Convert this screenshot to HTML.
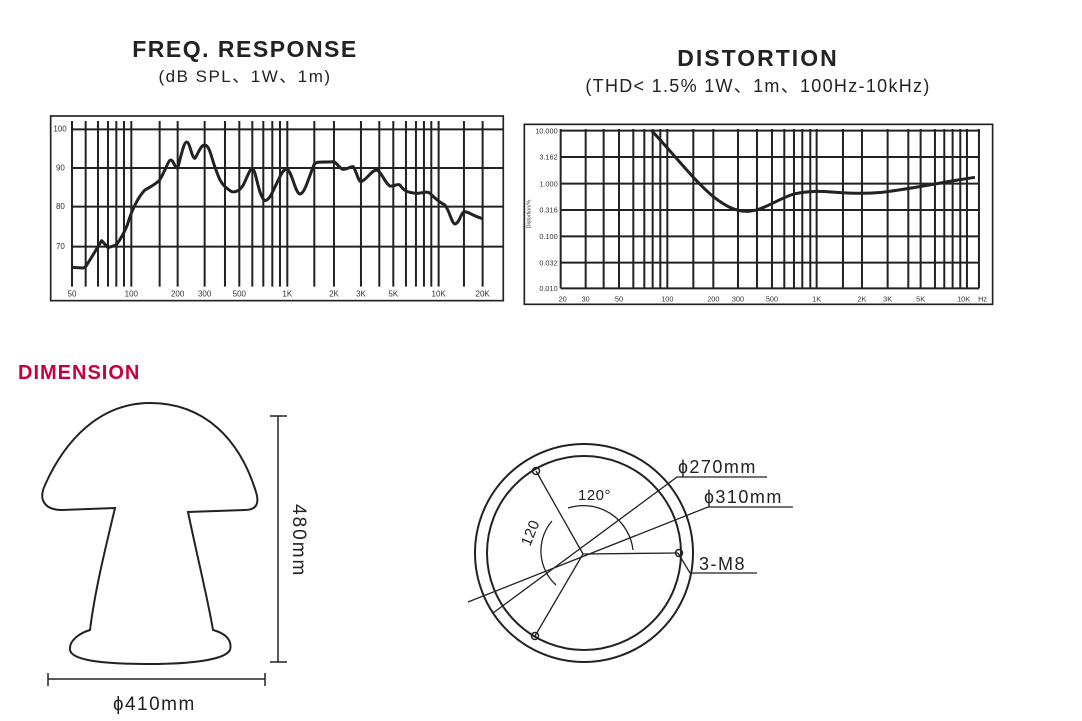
<!DOCTYPE html>
<html><head><meta charset="utf-8"><style>
html,body{margin:0;padding:0;background:#fff;}
svg{display:block;}
</style></head><body>
<svg width="1082" height="721" viewBox="0 0 1082 721" xmlns="http://www.w3.org/2000/svg" font-family="Liberation Sans, sans-serif">
<rect width="1082" height="721" fill="#fff"/>
<text x="245" y="57" font-size="23" font-weight="bold" text-anchor="middle" fill="#222" letter-spacing="1.5">FREQ. RESPONSE</text>
<text x="245" y="82" font-size="17" text-anchor="middle" fill="#222" letter-spacing="1.5" font-family="Liberation Sans, Noto Sans CJK SC, sans-serif">(dB SPL、1W、1m)</text>
<text x="758" y="66" font-size="23" font-weight="bold" text-anchor="middle" fill="#222" letter-spacing="2">DISTORTION</text>
<text x="758" y="92" font-size="18" text-anchor="middle" fill="#222" letter-spacing="1.3" font-family="Liberation Sans, Noto Sans CJK SC, sans-serif">(THD&lt; 1.5%  1W、1m、100Hz-10kHz)</text>
<text x="18" y="379" font-size="20" font-weight="bold" fill="#c8003c" letter-spacing="1">DIMENSION</text>

<!-- FR chart -->
<g transform="translate(40,110) scale(0.3333)" stroke="#222" fill="none">
<rect x="32" y="18" width="1358" height="554" stroke-width="5"/>
<g stroke-width="6">
<line x1="96" y1="58" x2="1390" y2="58"/><line x1="96" y1="174" x2="1390" y2="174"/>
<line x1="96" y1="290" x2="1390" y2="290"/><line x1="96" y1="410" x2="1390" y2="410"/>
</g>
<g stroke-width="6">
<path d="M96 33V530M137 33V530M174 33V530M204 33V530M229 33V530M252 33V530M274 33V530M359 33V530M413 33V530M494 33V530M555 33V530M598 33V530M637 33V530M670 33V530M697 33V530M720 33V530M742 33V530M823 33V530M882 33V530M963 33V530M1018 33V530M1060 33V530M1098 33V530M1128 33V530M1152 33V530M1174 33V530M1196 33V530M1272 33V530M1328 33V530"/>
</g>
<path stroke-width="9" stroke-linejoin="round" d="M96,472 L130,474 L137,470 C150,450 165,425 185,392 L204,413 L229,405 C240,390 252,370 262,345 C275,300 295,260 315,240 C330,230 345,225 359,210 C375,185 385,150 392,150 C400,150 405,175 413,175 C425,130 432,96 440,96 C450,96 455,145 465,145 C475,130 482,105 494,105 C510,105 515,150 530,185 C540,215 550,230 575,245 C590,248 600,240 610,225 C620,205 630,176 637,176 C648,176 655,260 675,272 C690,270 700,240 715,210 C725,190 730,178 740,178 C755,178 765,250 780,252 C795,250 805,205 823,162 C835,152 860,158 882,155 C890,158 900,178 910,178 C925,178 930,168 940,170 C950,185 955,215 963,215 C980,210 995,180 1010,180 C1025,185 1035,220 1050,228 C1065,230 1070,220 1080,225 C1090,240 1100,248 1130,250 C1150,250 1160,242 1170,250 C1185,265 1200,278 1215,285 C1230,305 1235,340 1245,342 C1260,340 1262,305 1275,305 C1290,308 1300,318 1328,326"/>
<g fill="#333" stroke="none" font-size="24">
<text x="40" y="65">100</text><text x="48" y="181">90</text><text x="48" y="297">80</text><text x="48" y="417">70</text>
<g text-anchor="middle">
<text x="96" y="560">50</text><text x="274" y="560">100</text><text x="413" y="560">200</text><text x="494" y="560">300</text><text x="598" y="560">500</text><text x="742" y="560">1K</text><text x="882" y="560">2K</text><text x="963" y="560">3K</text><text x="1060" y="560">5K</text><text x="1196" y="560">10K</text><text x="1328" y="560">20K</text>
</g></g>
</g>

<!-- Distortion chart -->
<g transform="translate(515,115) scale(0.3333)" stroke="#222" fill="none">
<rect x="28" y="28" width="1405" height="540" stroke-width="5"/>
<g stroke-width="6">
<path d="M137 47H1392M137 126H1392M137 206H1392M137 285H1392M137 364H1392M137 443H1392M137 520H1392"/>
<path d="M137 42V520M212 42V520M266 42V520M312 42V520M355 42V520M388 42V520M413 42V520M436 42V520M457 42V520M535 42V520M595 42V520M669 42V520M726 42V520M771 42V520M808 42V520M837 42V520M862 42V520M886 42V520M905 42V520M984 42V520M1041 42V520M1118 42V520M1180 42V520M1217 42V520M1260 42V520M1288 42V520M1313 42V520M1336 42V520M1356 42V520M1392 42V520"/>
</g>
<path stroke-width="9" d="M410,47 C470,110 540,200 595,245 C630,272 660,290 700,289 C750,285 790,250 840,236 C880,228 910,228 950,231 C1000,235 1040,237 1100,232 C1160,225 1230,212 1300,200 C1340,193 1360,190 1380,187"/>
<g fill="#333" stroke="none" font-size="22">
<g text-anchor="end"><text x="128" y="55">10.000</text><text x="128" y="134">3.162</text><text x="128" y="214">1.000</text><text x="128" y="293">0.316</text><text x="128" y="372">0.100</text><text x="128" y="451">0.032</text><text x="128" y="528">0.010</text></g>
<text transform="translate(46,340) rotate(-90)" font-size="16">Distortion/%</text>
<g text-anchor="middle"><text x="143" y="560">20</text><text x="212" y="560">30</text><text x="312" y="560">50</text><text x="457" y="560">100</text><text x="595" y="560">200</text><text x="669" y="560">300</text><text x="771" y="560">500</text><text x="905" y="560">1K</text><text x="1041" y="560">2K</text><text x="1118" y="560">3K</text><text x="1217" y="560">5K</text><text x="1346" y="560">10K</text><text x="1403" y="560">Hz</text></g>
</g>
</g>

<!-- Mushroom -->
<g stroke="#222" fill="none" stroke-width="2">
<path d="M115,508 L62,510 C45,510 38,500 45,485 C65,440 100,403 150,403 C205,403 240,440 256,492 C260,505 255,510 245,510 L188,512 C198,560 208,600 213,630 C228,634 232,642 230,650 C225,660 190,664 150,664 C100,664 68,660 70,648 C70,640 80,633 90,630 C95,590 105,550 115,508 Z"/>
<path stroke-width="1.5" d="M278,416V662M270,416H287M270,662H287M48,679H265M48,673V686M265,673V686"/>
</g>
<text transform="translate(293,504) rotate(90)" font-size="19" fill="#222" letter-spacing="2">480mm</text>
<text x="113" y="710" font-size="19" fill="#222" letter-spacing="1.5">ɸ410mm</text>

<!-- Circle -->
<g stroke="#222" fill="none" stroke-width="2">
<circle cx="584" cy="553" r="109"/>
<circle cx="584" cy="553" r="97"/>
<g stroke-width="1.3">
<path d="M583,554 L536,471 M583,554 L678,553 M583,554 L535,636"/>
<path d="M493,613 L677,477 L767,477"/>
<path d="M468,602 L708,507 L793,507"/>
<path d="M678,553 L690,573 L757,573"/>
<path d="M568,508 A50,50 0 0 1 633,550"/>
<path d="M552,521 A46,46 0 0 0 556,585"/>
</g>
<circle cx="536" cy="471" r="3.5" stroke-width="1.5"/>
<circle cx="679" cy="553" r="3.5" stroke-width="1.5"/>
<circle cx="535" cy="636" r="3.5" stroke-width="1.5"/>
</g>
<g fill="#222" font-size="18" letter-spacing="1.5">
<text x="678" y="473">ɸ270mm</text>
<text x="704" y="503">ɸ310mm</text>
<text x="699" y="570">3-M8</text>
<text x="578" y="500" font-size="15" letter-spacing="0.5">120°</text>
<text transform="translate(530,547) rotate(-68)" font-size="15" letter-spacing="0.5">120</text>
</g>
</svg>
</body></html>
